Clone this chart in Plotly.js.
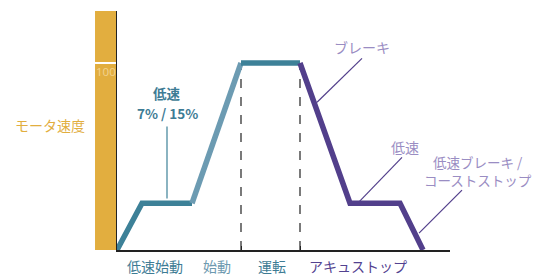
<!DOCTYPE html>
<html>
<head>
<meta charset="utf-8">
<script src="https://cdn.plot.ly/plotly-3.0.1.min.js"></script>
<style>html,body{margin:0;padding:0;background:#fff;}#chart{width:539px;height:275px;}</style>
</head>
<body>
<div id="chart"></div>
<script>
// Speed profile (time in arbitrary units, speed in %)
const time = [0, 1, 3, 4.96, 7.32, 9.32, 11.32, 12.24];
const speed = [0, 25, 25, 100, 100, 25, 25, 0];
// segments: [start index, end index, colour]
const segStart = [0, 2, 3, 4];
const segEnd = [2, 3, 4, 7];
const segColor = ['#3D8198', '#6C9BB2', '#3D8198', '#523F8B'];
// phase boundaries (dashed) and phase labels
const phaseBounds = [4.96, 7.32];
const phaseLabels = ['低速始動', '始動', '運転', 'アキュストップ'];
const phaseLabelX = [1.5, 4.0, 6.2, 9.64];
const phaseLabelColor = ['#3E7C95', '#6E9AB0', '#3E7C95', '#534290'];
const yTitle = 'モータ速度';
const topTick = 100;
const xMax = 13.32, yMax = 127.8;

const FONT = '"Noto Sans CJK JP", "Noto Sans", sans-serif';
const traces = segStart.map((s, i) => ({
  x: time.slice(s, segEnd[i] + 1),
  y: speed.slice(s, segEnd[i] + 1),
  mode: 'lines', type: 'scatter', hoverinfo: 'skip',
  line: {color: segColor[i], width: 5.5}
}));

const shapes = [
  {type:'rect', xref:'paper', yref:'paper', x0:-0.066, x1:-0.003, y0:0, y1:1, fillcolor:'#E2AE3F', line:{width:0}, layer:'below'},
  {type:'line', xref:'paper', yref:'y', x0:-0.066, x1:-0.003, y0:topTick, y1:topTick, line:{color:'#ffffff', width:2}},
  ...phaseBounds.map(b => ({type:'line', xref:'x', yref:'y', x0:b, x1:b, y0:0, y1:100, line:{color:'#333333', width:1.3, dash:'9px,9px'}, layer:'below'})),
  // leader lines
  {type:'line', xref:'x', yref:'y', x0:2.0, x1:2.0, y0:66, y1:27.5, line:{color:'#3D8198', width:1.2}},
  {type:'line', xref:'x', yref:'y', x0:9.8, x1:8.0, y0:102.5, y1:79, line:{color:'#523F8B', width:1.2}},
  {type:'line', xref:'x', yref:'y', x0:11.4, x1:9.7, y0:49.5, y1:26, line:{color:'#523F8B', width:1.2}},
  {type:'line', xref:'paper', yref:'y', x0:1.036, x1:0.907, y0:32, y1:9, line:{color:'#523F8B', width:1.2}}
];

const ann = (x, y, text, color, size, opts) => Object.assign({x, y, xref:'x', yref:'y', text, showarrow:false, xanchor:'center', font:{family:FONT, size, color}}, opts||{});
const annotations = [
  {xref:'paper', yref:'y', x:-0.0345, y:topTick-4.5, xanchor:'center', text:String(topTick), showarrow:false, font:{family:'"Open Sans", sans-serif', size:11.5, color:'#F3D38F'}},
  {xref:'paper', yref:'paper', x:-0.2, y:0.525, xanchor:'center', text:yTitle, showarrow:false, font:{family:FONT, size:14, color:'#E2AE3F'}},
  ann(2.0, 84, '<b>低速</b>', '#3E7C95', 13.5),
  ann(2.0, 73.5, '<b>7% / 15%</b>', '#3E7C95', 13.5),
  ann(9.8, 108.5, 'ブレーキ', '#9A8DC3', 14),
  ann(11.5, 55, '低速', '#9A8DC3', 14),
  ann(1.084, 42.5, '低速ブレーキ /<br>コーストストップ', '#9A8DC3', 13.5, {xref:'paper', align:'center'})
];
phaseLabels.forEach((t, i) => annotations.push({x: phaseLabelX[i], y: -0.066, xref:'x', yref:'paper', text:t, showarrow:false, xanchor:'center', yanchor:'middle', font:{family:FONT, size:14, color:phaseLabelColor[i]}}));

const layout = {
  width: 539, height: 275,
  margin: {l:117, r:89, t:11, b:25},
  paper_bgcolor:'#ffffff', plot_bgcolor:'#ffffff',
  showlegend:false,
  xaxis: {range:[0, xMax], showgrid:false, zeroline:false, showline:true, linecolor:'#222222', linewidth:1.5,
          tickmode:'array', tickvals:phaseBounds, ticktext:['',''], ticks:'inside', ticklen:4, tickcolor:'#222', fixedrange:true},
  yaxis: {range:[0, yMax], showgrid:false, zeroline:false, showline:true, linecolor:'#222222', linewidth:1.5,
          showticklabels:false, ticks:'', fixedrange:true},
  shapes, annotations
};
Plotly.newPlot('chart', traces, layout, {displayModeBar:false, staticPlot:true});
</script>
</body>
</html>
